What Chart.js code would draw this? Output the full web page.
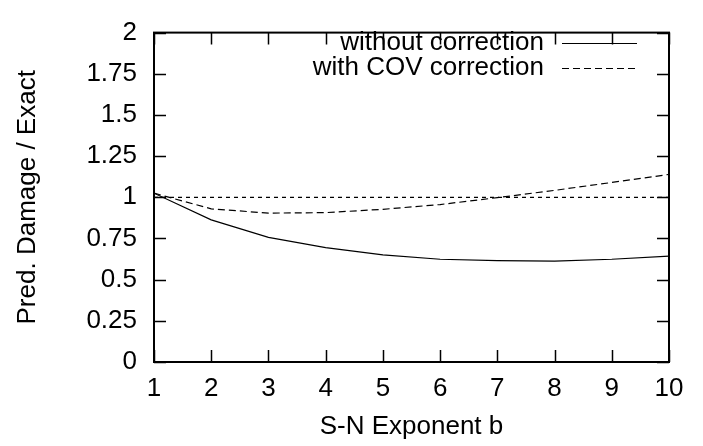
<!DOCTYPE html>
<html>
<head>
<meta charset="utf-8">
<script src="https://cdn.jsdelivr.net/npm/chart.js@4.4.1/dist/chart.umd.min.js"></script>
<style>
  html, body { margin: 0; padding: 0; background: #fff; }
  #wrap { width: 703px; height: 446px; }
</style>
</head>
<body>
<div id="wrap"><canvas id="chart" width="703" height="446"></canvas></div>
<script>
// values
const exponents = [1, 2, 3, 4, 5, 6, 7, 8, 9, 10];
const withoutCorrection = [1.025, 0.863, 0.757, 0.695, 0.651, 0.624, 0.615, 0.613, 0.624, 0.643];
const withCovCorrection = [1.025, 0.930, 0.904, 0.907, 0.927, 0.956, 0.998, 1.042, 1.090, 1.139];
const exactRatio = [1, 1, 1, 1, 1, 1, 1, 1, 1, 1];
const xTicks = [1, 2, 3, 4, 5, 6, 7, 8, 9, 10];
const yTicks = [0, 0.25, 0.5, 0.75, 1, 1.25, 1.5, 1.75, 2];

const FONT = { family: "'Liberation Sans', Arial, Helvetica, sans-serif", size: 26 };

function toPoints(ys) {
  return exponents.map((x, i) => ({ x, y: ys[i] }));
}

// gnuplot style frame with inward ticks on all four sides
const framePlugin = {
  id: 'frame',
  afterDatasetsDraw(chart) {
    const { ctx, chartArea: a, scales } = chart;
    const len = 12;
    ctx.save();
    ctx.strokeStyle = '#000';
    ctx.lineWidth = 1.5;
    ctx.beginPath();
    xTicks.forEach(v => {
      const px = Math.round(scales.x.getPixelForValue(v)) + 0.5;
      ctx.moveTo(px, a.bottom); ctx.lineTo(px, a.bottom - len);
      ctx.moveTo(px, a.top); ctx.lineTo(px, a.top + len);
    });
    yTicks.forEach(v => {
      const py = Math.round(scales.y.getPixelForValue(v)) + 0.5;
      ctx.moveTo(a.left, py); ctx.lineTo(a.left + len, py);
      ctx.moveTo(a.right, py); ctx.lineTo(a.right - len, py);
    });
    ctx.stroke();
    ctx.lineWidth = 2;
    ctx.strokeRect(a.left, a.top, a.right - a.left, a.bottom - a.top);
    ctx.restore();
  }
};

// key: right aligned text with the line sample on its right
const keyPlugin = {
  id: 'key',
  afterDraw(chart) {
    const { ctx } = chart;
    const textRight = 544, sampleLeft = 562, sampleRight = 637;
    let y = 42.5;
    ctx.save();
    ctx.font = `${FONT.size}px ${FONT.family}`;
    ctx.textAlign = 'right';
    ctx.textBaseline = 'middle';
    ctx.fillStyle = '#000';
    chart.data.datasets.forEach(ds => {
      if (!ds.label) return;
      ctx.fillText(ds.label, textRight, y);
      ctx.strokeStyle = ds.borderColor;
      ctx.lineWidth = ds.borderWidth;
      ctx.setLineDash(ds.borderDash || []);
      ctx.beginPath();
      ctx.moveTo(sampleLeft, Math.round(y) + 0.5);
      ctx.lineTo(sampleRight, Math.round(y) + 0.5);
      ctx.stroke();
      y += 25.5;
    });
    ctx.restore();
  }
};

const ctx = document.getElementById('chart').getContext('2d');
new Chart(ctx, {
  type: 'line',
  data: {
    datasets: [
      {
        label: 'without correction',
        data: toPoints(withoutCorrection),
        borderColor: '#000',
        borderWidth: 1.2,
        pointRadius: 0,
        tension: 0
      },
      {
        label: 'with COV correction',
        data: toPoints(withCovCorrection),
        borderColor: '#000',
        borderWidth: 1.2,
        borderDash: [7, 4],
        pointRadius: 0,
        tension: 0
      },
      {
        label: '',
        data: toPoints(exactRatio),
        borderColor: '#000',
        borderWidth: 1.2,
        borderDash: [4, 4],
        pointRadius: 0,
        tension: 0
      }
    ]
  },
  options: {
    responsive: false,
    animation: false,
    events: [],
    layout: { padding: { left: 0, right: 34, top: 16, bottom: 0 } },
    plugins: {
      legend: { display: false },
      tooltip: { enabled: false }
    },
    scales: {
      x: {
        type: 'linear',
        min: 1,
        max: 10,
        afterBuildTicks: s => { s.ticks = xTicks.map(v => ({ value: v })); },
        afterFit: s => { s.height = 84; },
        grid: { display: false, drawTicks: false },
        border: { display: false },
        ticks: { color: '#000', font: FONT, padding: 11, maxRotation: 0, autoSkip: false },
        title: {
          display: true,
          text: 'S-N Exponent b',
          color: '#000',
          font: FONT,
          padding: { top: 0, bottom: 4 }
        }
      },
      y: {
        type: 'linear',
        min: 0,
        max: 2,
        afterBuildTicks: s => { s.ticks = yTicks.map(v => ({ value: v })); },
        afterFit: s => { s.width = 154; },
        grid: { display: false, drawTicks: false },
        border: { display: false },
        ticks: {
          color: '#000',
          font: FONT,
          padding: 17,
          callback: v => String(+v.toFixed(2))
        },
        title: {
          display: true,
          text: 'Pred. Damage / Exact',
          color: '#000',
          font: FONT,
          padding: { top: 12, bottom: 0 }
        }
      }
    }
  },
  plugins: [framePlugin, keyPlugin]
});
</script>
</body>
</html>
